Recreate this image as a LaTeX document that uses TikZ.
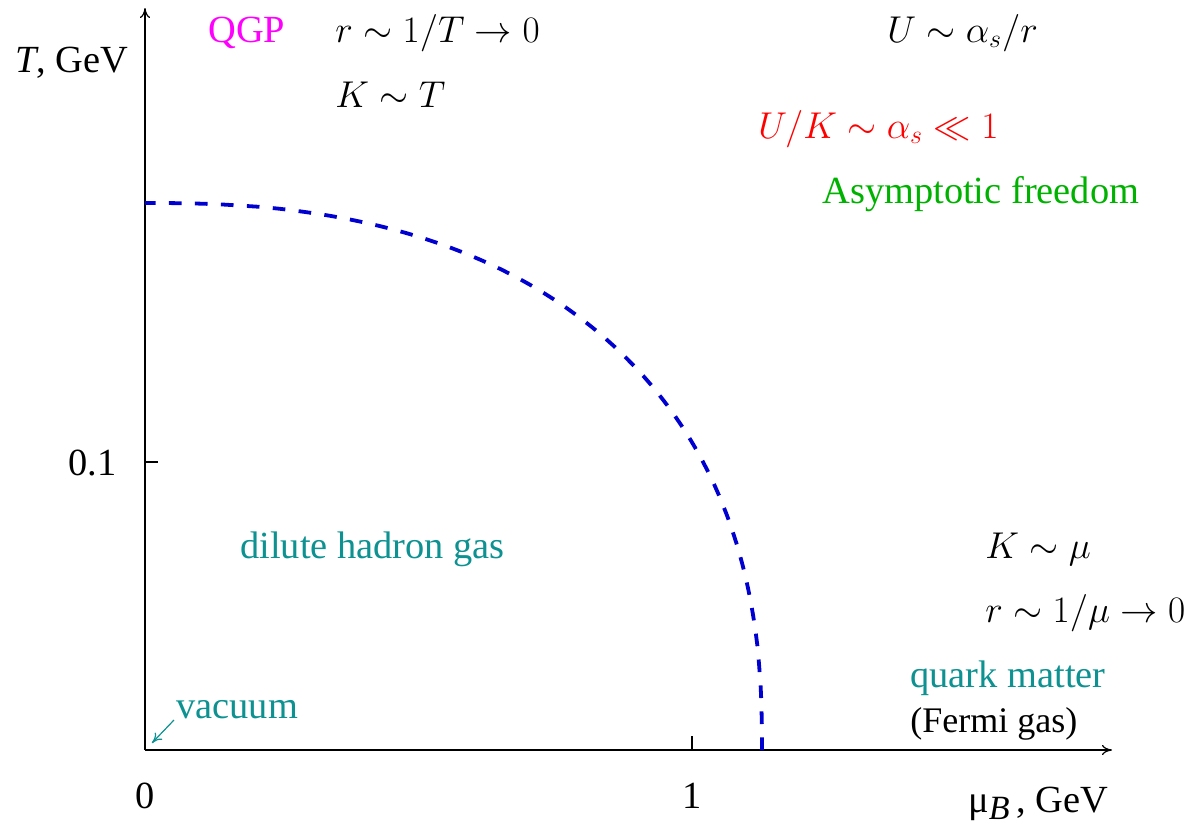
\documentclass[tikz,border=0pt]{standalone}
\usepackage{graphicx}
\usepackage[no-math]{fontspec}
\setmainfont{Liberation Serif}
\usetikzlibrary{arrows.meta}
\definecolor{tealc}{rgb}{0.05,0.57,0.57}
\definecolor{greenc}{rgb}{0,0.70,0}
\definecolor{bluec}{rgb}{0,0,0.82}
\definecolor{magc}{rgb}{1,0,1}
\definecolor{redc}{rgb}{1,0,0}
\newcommand{\scmath}[1]{\scalebox{1.08}{$#1$}}
\begin{document}
\begin{tikzpicture}[x=0.5pt,y=-0.5pt,
  lbl/.style={anchor=base west,inner sep=0pt,font=\fontsize{19.2}{22}\selectfont},
  mlbl/.style={anchor=base west,inner sep=0pt,font=\fontsize{17.28}{21}\selectfont},
  axis/.style={line width=0.6pt,-{To[length=5pt,width=5pt]}},
  tick/.style={line width=0.6pt},
  phase/.style={bluec,line width=1.9pt,dash pattern=on 6.3pt off 6.7pt}]
\useasboundingbox (0,0) rectangle (1200,826);
% axes
\coordinate (O) at (145,750);
\coordinate (xend) at (1112,750);
\coordinate (yend) at (145,8);
\draw[axis] (O) -- (xend);
\draw[axis] (O) -- (yend);
\coordinate (tx1) at (692,750);
\coordinate (tx1b) at (692,736);
\draw[tick] (tx1) -- (tx1b);
\coordinate (ty1) at (145,462);
\coordinate (ty1b) at (158,462);
\draw[tick] (ty1) -- (ty1b);
% phase boundary
\draw[phase] plot[domain=0.0001:89.9999,samples=120,smooth,variable=\t]
  ({145+617*pow(cos(\t),0.8333)},{750-547*pow(sin(\t),0.8333)});
% tick labels
\node[lbl,anchor=base] (l0) at (145,808) {0};
\node[lbl,anchor=base] (l1) at (692,808) {1};
\node[lbl,anchor=base east] (l01) at (117,475) {0.1};
\node[lbl] (ylab) at (15,72) {\textit{T}, GeV};
\node[lbl] (xlab) at (968,812) {μ\raisebox{-0.45ex}{\fontsize{17}{17}\selectfont\textit{B}}\,, GeV};
% texts
\node[lbl,magc] (qgp) at (208,42) {QGP};
\node[mlbl] (rT) at (335,42) {\scmath{r\sim 1/T\rightarrow 0}};
\node[mlbl] (KT) at (335,107) {\scmath{K\sim T}};
\node[mlbl] (Ua) at (887,42) {\scmath{U\sim \alpha_s/r}};
\node[mlbl,redc] (UK) at (758,138) {\scmath{U/K\sim \alpha_s\ll 1}};
\node[lbl,greenc] (af) at (822,203) {Asymptotic freedom};
\node[lbl,tealc] (dhg) at (240,558) {dilute hadron gas};
\node[mlbl] (Kmu) at (985,558) {\scmath{K\sim \mu}};
\node[mlbl] (rmu) at (985,622) {\scmath{r\sim 1/\mu\rightarrow 0}};
\node[lbl,tealc] (qm) at (910,687) {quark matter};
\node[lbl,font=\fontsize{18}{21}\selectfont] (fg) at (910,732) {(Fermi gas)};
\node[lbl,tealc] (vac) at (176,718) {vacuum};
\coordinate (vacstart) at (174,720);
\coordinate (vacend) at (152,743);
\draw[tealc,line width=0.6pt,-{To[length=5pt,width=5pt]}] (vacstart) -- (vacend);
\end{tikzpicture}
\end{document}
